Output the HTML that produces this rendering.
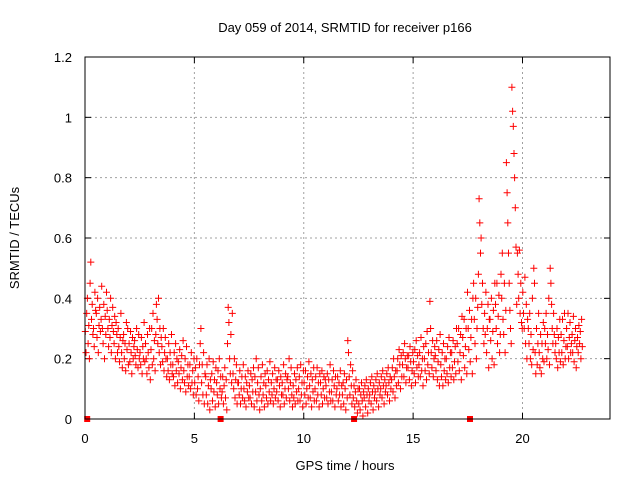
<!DOCTYPE html>
<html><head><meta charset="utf-8"><style>
html,body{margin:0;padding:0;background:#fff;}
svg{display:block;font-family:"Liberation Sans",sans-serif;}
</style></head><body>
<svg id="chart" width="640" height="480" viewBox="0 0 640 480">
<rect width="640" height="480" fill="#fff"/>
<text x="345" y="32" font-size="13" text-anchor="middle">Day 059 of 2014, SRMTID for receiver p166</text>
<text transform="translate(19,238) rotate(-90)" font-size="13" text-anchor="middle">SRMTID / TECUs</text>
<text x="345" y="470" font-size="13" text-anchor="middle">GPS time / hours</text>
<g id="grid"></g>
<g id="ticks"></g>
<g id="points"></g>
<rect x="85" y="57" width="525" height="362" fill="none" stroke="#000" stroke-width="1"/>
</svg>
<script>
const xTicks=[0,5,10,15,20];
const yTicks=[0,0.2,0.4,0.6,0.8,1,1.2];
const yTickLabels=["0","0.2","0.4","0.6","0.8","1","1.2"];
const binStart=[0,0.25,0.5,0.75,1,1.25,1.5,1.75,2,2.25,2.5,2.75,3,3.25,3.5,3.75,4,4.25,4.5,4.75,5,5.25,5.5,5.75,6,6.25,6.5,6.75,7,7.25,7.5,7.75,8,8.25,8.5,8.75,9,9.25,9.5,9.75,10,10.25,10.5,10.75,11,11.25,11.5,11.75,12,12.25,12.5,12.75,13,13.25,13.5,13.75,14,14.25,14.5,14.75,15,15.25,15.5,15.75,16,16.25,16.5,16.75,17,17.25,17.5,17.75,18,18.25,18.5,18.75,19,19.25,19.5,19.75,20,20.25,20.5,20.75,21,21.25,21.5,21.75,22,22.25,22.5];
const binValues=[
[.29,.22,.35,.40,.25,.31,.20,.45],[.52,.33,.38,.28,.30,.24,.42,.36],[.35,.27,.40,.22,.31,.37,.29,.33],[.44,.30,.25,.38,.20,.34,.28,.42],
[.36,.30,.24,.33,.27,.40,.22,.31],[.37,.29,.25,.34,.20,.32,.28,.22],[.30,.24,.19,.27,.35,.22,.17,.26],[.28,.20,.25,.16,.32,.23,.30,.18],
[.25,.19,.29,.22,.15,.27,.20,.24],[.26,.21,.18,.30,.23,.17,.28,.20],[.22,.18,.27,.15,.24,.20,.32,.19],[.25,.20,.15,.28,.22,.17,.30,.13],
[.23,.30,.18,.35,.20,.26,.16,.28],[.38,.33,.25,.40,.22,.30,.18,.27],[.24,.19,.30,.16,.22,.27,.20,.14],[.20,.16,.25,.13,.22,.18,.28,.15],
[.18,.14,.22,.11,.25,.16,.20,.12],[.19,.15,.23,.10,.17,.21,.13,.26],[.16,.12,.20,.09,.24,.14,.18,.11],[.14,.18,.10,.22,.12,.16,.08,.20],
[.12,.17,.08,.20,.10,.14,.06,.18],[.25,.30,.12,.18,.08,.22,.05,.15],[.14,.08,.18,.05,.11,.20,.03,.13],[.10,.15,.06,.19,.09,.13,.04,.17],
[.12,.08,.16,.05,.20,.10,.14,.07],[.09,.14,.05,.11,.17,.07,.13,.03],[.25,.37,.32,.20,.15,.28,.12,.35],[.15,.10,.20,.07,.13,.18,.05,.12],
[.12,.08,.16,.05,.10,.14,.07,.18],[.10,.06,.14,.04,.12,.09,.16,.07],[.11,.07,.15,.05,.13,.09,.17,.04],[.14,.09,.20,.06,.12,.17,.08,.03],
[.10,.14,.06,.18,.08,.12,.04,.15],[.11,.07,.16,.05,.13,.09,.19,.06],[.12,.08,.15,.05,.10,.17,.07,.13],[.09,.13,.06,.16,.11,.04,.14,.08],
[.12,.08,.18,.05,.10,.15,.07,.13],[.14,.10,.20,.06,.12,.17,.08,.04],[.11,.07,.15,.05,.13,.09,.17,.06],[.10,.14,.06,.18,.08,.12,.04,.16],
[.12,.08,.16,.05,.10,.14,.07,.19],[.11,.07,.15,.04,.13,.09,.17,.06],[.10,.14,.06,.17,.08,.12,.04,.15],[.12,.08,.16,.05,.10,.14,.07,.13],
[.11,.07,.15,.05,.13,.09,.18,.06],[.09,.13,.06,.16,.11,.04,.14,.08],[.10,.14,.06,.12,.08,.16,.04,.11],[.08,.12,.05,.15,.10,.03,.13,.07],
[.26,.22,.14,.08,.18,.11,.05,.16],[.07,.11,.04,.09,.13,.06,.02,.10],[.05,.10,.03,.08,.12,.06,.01,.09],[.07,.11,.04,.13,.08,.02,.10,.06],
[.08,.12,.05,.14,.09,.03,.11,.07],[.09,.13,.06,.15,.10,.04,.12,.08],[.10,.14,.07,.16,.11,.05,.13,.09],[.11,.15,.08,.17,.12,.06,.14,.10],
[.13,.17,.09,.20,.14,.07,.16,.11],[.16,.20,.12,.23,.18,.10,.21,.14],[.18,.22,.14,.25,.20,.12,.17,.21],[.17,.21,.13,.24,.19,.11,.16,.22],
[.19,.15,.23,.12,.26,.17,.21,.14],[.18,.22,.14,.27,.16,.20,.11,.24],[.20,.16,.25,.13,.29,.18,.22,.15],[.39,.30,.22,.17,.26,.14,.20,.24],
[.21,.16,.26,.13,.19,.23,.11,.28],[.18,.14,.22,.11,.25,.16,.20,.13],[.20,.15,.24,.12,.27,.17,.22,.14],[.22,.17,.26,.13,.19,.24,.15,.30],
[.25,.19,.30,.16,.22,.28,.13,.34],[.27,.21,.33,.17,.24,.30,.15,.42],[.30,.23,.36,.19,.27,.33,.15,.40],[.45,.33,.25,.40,.20,.30,.37,.48],
[.73,.65,.55,.60,.38,.45,.30,.25],[.35,.28,.42,.22,.30,.38,.17,.33],[.33,.26,.40,.20,.29,.36,.18,.45],[.38,.30,.45,.25,.34,.41,.22,.28],
[.48,.40,.55,.33,.28,.45,.22,.36],[.85,.75,.65,.55,.45,.36,.30,.25],[1.10,1.02,.97,.88,.80,.70,.57,.38],[.55,.48,.40,.56,.35,.45,.32,.30],
[.42,.35,.30,.47,.25,.38,.20,.33],[.30,.25,.35,.20,.28,.18,.40,.23],[.50,.45,.22,.15,.30,.18,.25,.35],[.22,.17,.28,.15,.25,.20,.32,.19],
[.30,.25,.35,.20,.28,.23,.40,.18],[.50,.45,.38,.30,.25,.35,.28,.22],[.25,.20,.30,.17,.27,.22,.33,.19],[.28,.22,.33,.18,.26,.35,.20,.24],
[.30,.24,.35,.20,.27,.32,.22,.25],[.28,.22,.34,.19,.26,.30,.17,.24],[.27,.22,.31,.25,.29,.20,.33,.24]];
const gapTimes=[0.1,6.2,12.3,17.6];
const binWidth=0.25;
const NS="http://www.w3.org/2000/svg";
const X0=85,X1=610,Y0=419,Y1=57,XMAX=24,YMAX=1.2;
function xs(v){return X0+(X1-X0)*v/XMAX;}
function ys(v){return Y0-(Y0-Y1)*v/YMAX;}
function mk(tag,attrs,parent){const e=document.createElementNS(NS,tag);for(const k in attrs)e.setAttribute(k,attrs[k]);parent.appendChild(e);return e;}
const grid=document.getElementById('grid'),ticks=document.getElementById('ticks'),pts=document.getElementById('points');
xTicks.forEach(t=>{
  const x=xs(t);
  const g=mk('line',{x1:x,x2:x,y1:Y1,y2:Y0,stroke:'#a0a0a0','stroke-dasharray':'2,3'},grid);
  
  
  mk('line',{x1:x,x2:x,y1:Y0,y2:Y0-6,stroke:'#000'},ticks);
  mk('line',{x1:x,x2:x,y1:Y1,y2:Y1+6,stroke:'#000'},ticks);
  const l=mk('text',{x:x,y:443,'font-size':13,'text-anchor':'middle'},ticks);l.textContent=String(t);
  
  
});
yTicks.forEach((t,i)=>{
  const y=ys(t);
  const g=mk('line',{x1:X0,x2:X1,y1:y,y2:y,stroke:'#a0a0a0','stroke-dasharray':'2,3'},grid);
  
  
  mk('line',{x1:X0,x2:X0+6,y1:y,y2:y,stroke:'#000'},ticks);
  mk('line',{x1:X1,x2:X1-6,y1:y,y2:y,stroke:'#000'},ticks);
  const l=mk('text',{x:72,y:y+5,'font-size':13,'text-anchor':'end'},ticks);l.textContent=yTickLabels[i];
  
  
});
let d='';
binStart.forEach((t,i)=>{
  const vals=binValues[i];
  vals.forEach((v,k)=>{
    const x=xs(t+binWidth*(k+0.5)/vals.length),y=ys(v);
    d+=`M${(x-3.5).toFixed(1)} ${y.toFixed(1)}h7M${x.toFixed(1)} ${(y-3.5).toFixed(1)}v7`;
  });
});
const p=mk('path',{d:d,stroke:'#ff0000','stroke-width':1,fill:'none'},pts);


gapTimes.forEach(t=>{
  const r=mk('rect',{x:xs(t)-3,y:ys(0)-3,width:6,height:6,fill:'#ff0000'},pts);
  
  
});
</script>
</body></html>
